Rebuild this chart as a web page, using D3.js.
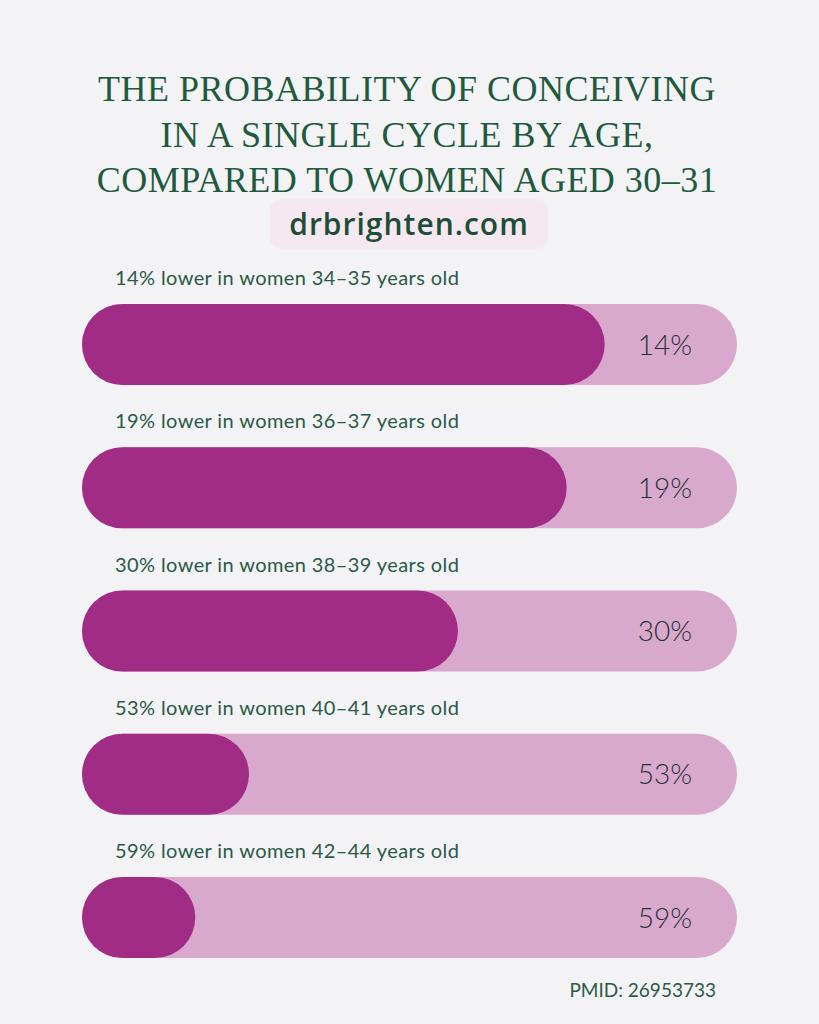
<!DOCTYPE html>
<html>
<head>
<meta charset="UTF-8">
<title>Probability of conceiving by age</title>
<script src="https://d3js.org/d3.v7.min.js"></script>
<style>
  html, body { margin: 0; padding: 0; background: #f3f2f5; }
  svg { display: block; }
</style>
</head>
<body>
<div id="chart"></div>
<script>
  // data
  var ages = ["34–35", "36–37", "38–39", "40–41", "42–44"];
  var lowerPct = [14, 19, 30, 53, 59];
  // length of the dark bar as a share of the full track (as drawn in the picture)
  var fillPct = [79.8, 74.0, 57.4, 25.5, 17.3];
  var titleLines = [
    "THE PROBABILITY OF CONCEIVING",
    "IN A SINGLE CYCLE BY AGE,",
    "COMPARED TO WOMEN AGED 30–31"
  ];

  var width = 819, height = 1024;
  var rows = ages.map(function (a, i) {
    return { age: a, lower: lowerPct[i], fill: fillPct[i] };
  });

  var svg = d3.select("#chart").append("svg")
    .attr("width", width)
    .attr("height", height);

  svg.append("rect")
    .attr("width", width).attr("height", height)
    .attr("fill", "#f3f2f5");

  // title
  svg.append("g").selectAll("text")
    .data(titleLines)
    .join("text")
    .attr("x", 407)
    .attr("y", function (d, i) { return 101 + i * 45.5; })
    .attr("text-anchor", "middle")
    .attr("font-family", "'Liberation Serif', serif")
    .attr("font-size", 36)
    .attr("letter-spacing", 0.5)
    .attr("fill", "#1e5a3d")
    .text(function (d) { return d; });

  // site pill
  svg.append("rect")
    .attr("x", 270).attr("y", 199)
    .attr("width", 278).attr("height", 50)
    .attr("rx", 12)
    .attr("fill", "#f6e8f1");
  svg.append("text")
    .attr("x", 409).attr("y", 235)
    .attr("text-anchor", "middle")
    .attr("font-family", "'Open Sans', sans-serif")
    .attr("font-weight", 600)
    .attr("font-size", 30)
    .attr("letter-spacing", 1)
    .attr("fill", "#1c4d36")
    .text("drbrighten.com");

  // scales
  var x = d3.scaleLinear().domain([0, 100]).range([82, 737]);
  var y = d3.scaleBand()
    .domain(ages)
    .range([304, 304 + 4 * 143.25 + 81])
    .paddingInner((143.25 - 81) / 143.25)
    .paddingOuter(0);
  var bh = y.bandwidth();

  var row = svg.append("g").selectAll("g")
    .data(rows)
    .join("g")
    .attr("transform", function (d) { return "translate(0," + y(d.age) + ")"; });

  row.append("text")
    .attr("x", 115)
    .attr("y", -19)
    .attr("font-family", "Lato, sans-serif")
    .attr("font-size", 20)
    .attr("letter-spacing", 0.4)
    .attr("fill", "#2a5a46")
    .text(function (d) { return d.lower + "% lower in women " + d.age + " years old"; });

  row.append("rect")
    .attr("x", x(0))
    .attr("width", x(100) - x(0))
    .attr("height", bh)
    .attr("rx", bh / 2)
    .attr("fill", "#d9a9cd");

  row.append("rect")
    .attr("x", x(0))
    .attr("width", function (d) { return x(d.fill) - x(0); })
    .attr("height", bh)
    .attr("rx", bh / 2)
    .attr("fill", "#a02c85");

  row.append("text")
    .attr("x", 665)
    .attr("y", bh / 2 + 10)
    .attr("text-anchor", "middle")
    .attr("font-family", "Lato, sans-serif")
    .attr("font-weight", 300)
    .attr("font-size", 28)
    .attr("fill", "#1f3335")
    .text(function (d) { return d.lower + "%"; });

  svg.append("text")
    .attr("x", 716).attr("y", 997)
    .attr("text-anchor", "end")
    .attr("font-family", "Lato, sans-serif")
    .attr("font-size", 19)
    .attr("fill", "#2a5a46")
    .text("PMID: 26953733");
</script>
</body>
</html>
